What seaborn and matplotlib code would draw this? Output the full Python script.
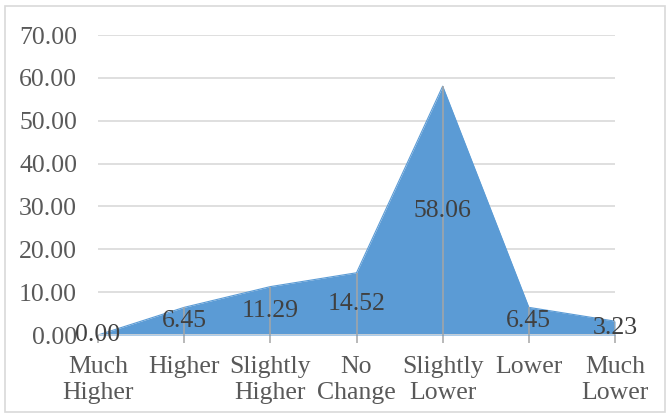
import matplotlib
matplotlib.use("Agg")
import matplotlib.pyplot as plt
import seaborn as sns
import pandas as pd
from matplotlib.patches import Rectangle

categories = ["Much\nHigher", "Higher", "Slightly\nHigher", "No\nChange",
              "Slightly\nLower", "Lower", "Much\nLower"]
values = [0.00, 6.45, 11.29, 14.52, 58.06, 6.45, 3.23]
y_ticks = [0, 10, 20, 30, 40, 50, 60, 70]

sns.set_theme(style="white")
plt.rcParams["font.family"] = ["Liberation Serif", "DejaVu Serif"]

df = pd.DataFrame({"pos": range(len(categories)), "value": values})

fill_color = "#5B9BD5"
grid_color = "#D9D9D9"
drop_color = "#A6A6A6"
fs = 18.5

fig = plt.figure(figsize=(6.7, 4.18), dpi=100)
ax = fig.add_axes([98 / 670, 1 - 335 / 418, (615 - 98) / 670, 300 / 418])

ax.fill_between(df["pos"], 0, df["value"], color=fill_color, linewidth=0, zorder=2)
sns.lineplot(data=df, x="pos", y="value", ax=ax, color=fill_color,
             linewidth=0.8, zorder=2)

# horizontal gridlines
for t in y_ticks[1:]:
    ax.axhline(t, color=grid_color, linewidth=1.2, zorder=1)
ax.axhline(0, color=grid_color, linewidth=1.2, zorder=3)

# drop lines from each point to the axis
ax.vlines(df["pos"], 0, df["value"], color=drop_color, linewidth=1.1, zorder=3)

# data labels centred in the area
for x, v in zip(df["pos"], df["value"]):
    ax.text(x, v / 2, f"{v:.2f}", ha="center", va="center",
            fontsize=fs, color="#404040", zorder=4)

ax.set_xlim(0, len(categories) - 1)
ax.set_ylim(0, 70)
ax.set_yticks(y_ticks)
ax.set_yticklabels([f"{t:.2f}" for t in y_ticks])
ax.set_xticks(range(len(categories)))
ax.set_xticklabels(categories, linespacing=1.25)
ax.tick_params(axis="y", length=0, pad=15, labelsize=fs, labelcolor="#595959")
ax.tick_params(axis="x", length=6, width=1.1, color=drop_color, pad=9,
               labelsize=fs, labelcolor="#595959", bottom=True, direction="out")
ax.set_xlabel("")
ax.set_ylabel("")
for s in ax.spines.values():
    s.set_visible(False)

fig.patches.append(Rectangle((5 / 670, 6 / 418), 660 / 670, 406 / 418,
                             transform=fig.transFigure, fill=False,
                             edgecolor="#D9D9D9", linewidth=1.2))

fig.savefig("out.png", dpi=100)
